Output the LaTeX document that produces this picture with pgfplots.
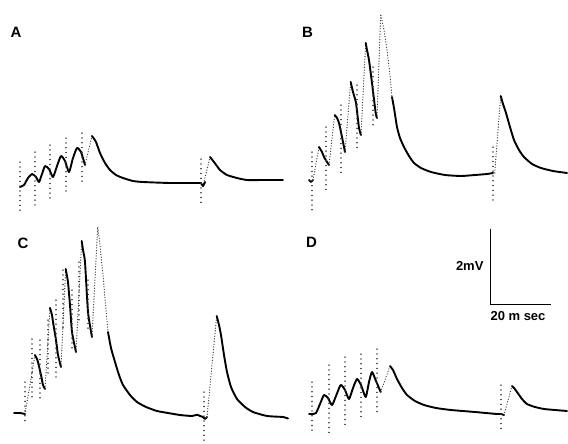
\documentclass[border=0pt]{standalone}
\usepackage{pgfplots}
\pgfplotsset{compat=1.18}
\usepackage{fontspec}
\setmainfont{Liberation Sans}
\begin{document}
\begin{tikzpicture}
\begin{axis}[x=1pt, y=1pt, xmin=0, xmax=568, ymin=0, ymax=444, y dir=reverse,
  hide axis, scale only axis, clip=false,
  trace/.style={black, line width=1.9pt, line join=round, line cap=round, smooth, tension=0.35, mark=none},
  fast/.style={black!75, line width=1.1pt, line cap=round, dash pattern=on 0.3pt off 2.4pt, mark=none},
  art/.style={black!75, line width=1.1pt, line cap=round, dash pattern=on 0.3pt off 4.5pt, mark=none, unbounded coords=jump}]
\draw[draw=none] (axis cs:0,0) rectangle (axis cs:568,444);
% ---------------- Panel A ----------------
\addplot[trace] coordinates {(20,187)(24,185)(28,178)(32,174)(36,177)(39,182)(42,174)(45,166)(49,169)(53,177)(57,166)(61,156)(65,161)(69,172)(73,158)(77,148)(81,152)(85,165)};
\addplot[fast] coordinates {(85,165)(92,136)};
\addplot[trace] coordinates {(92,136)(96,142)(100,153)(105,163)(110,170)(116,175)(123,178)(133,181)(143,182)(170,183)(197,183)(201,183)};
\addplot[fast] coordinates {(203,186)(210,157)};
\addplot[trace] coordinates {(201,183)(203,186)(205,182)};
\addplot[trace] coordinates {(210,157)(214,162)(220,170)(227,175)(237,178)(247,180)(265,180)(283,180)};
\addplot[art] coordinates {(20,162)(20,212)(nan,nan)(35,152)(35,205)(nan,nan)(50,145)(50,200)(nan,nan)(66,138)(66,193)(nan,nan)(82,133)(82,185)(nan,nan)(201,159)(201,205)};
% ---------------- Panel B ----------------
\addplot[trace] coordinates {(309,180)(311,182)(313,180)};
\addplot[fast] coordinates {(313,180)(319,147)};
\addplot[trace] coordinates {(319,147)(322,152)(324,157)(327,162)(329,165)};
\addplot[fast] coordinates {(329,165)(334.7,115)};
\addplot[trace] coordinates {(334.7,115)(337,118)(339,123)(342,137)(345,152)};
\addplot[fast] coordinates {(345,152)(350.7,82)};
\addplot[trace] coordinates {(350.7,82)(353,92)(356,103)(359,128)(361,135)};
\addplot[fast] coordinates {(361,135)(365.7,43)};
\addplot[trace] coordinates {(365.7,43)(367,50)(369,60)(372,83)(375.7,113)(377,118)};
\addplot[fast] coordinates {(377,118)(380.7,14)(384,30)(387,50)(390,75)(392,97)};
\addplot[trace] coordinates {(392,97)(394,108)(397,127)(400,138)(404,147)(409,156)(414,163)(421,168)(431,172)(445,175)(461,176)(475,175)(487,174)(493,173)};
\addplot[fast] coordinates {(494.7,173)(500.7,96)};
\addplot[trace] coordinates {(500.7,96)(503,104)(506,113)(510,127)(514,140)(519,150)(524,157)(532,164)(541,168)(553,171)(567,173)};
\addplot[art] coordinates {(312,152)(312,213)(nan,nan)(326,127)(326,193)(nan,nan)(341,105)(341,173)(nan,nan)(357,85)(357,150)(nan,nan)(373,67)(373,127)(nan,nan)(493,147)(493,203)};
% ---------------- Panel C ----------------
\addplot[trace] coordinates {(14,413)(20,413)(25,414)};
\addplot[fast] coordinates {(25,414)(35,355)};
\addplot[trace] coordinates {(35,355)(37,359)(38,362)(41,375)(43,385)(45,389)};
\addplot[fast] coordinates {(45,389)(50,308)};
\addplot[trace] coordinates {(50,308)(52,315)(53,322)(56,340)(58,355)(61,367)};
\addplot[fast] coordinates {(61,367)(65.7,269)};
\addplot[trace] coordinates {(65.7,269)(67,276)(68,282)(70,305)(72,332)(76,352)};
\addplot[fast] coordinates {(76,352)(81.7,241)};
\addplot[trace] coordinates {(81.7,241)(83,250)(85,262)(88,312)(92,337)};
\addplot[fast] coordinates {(92,337)(97.7,227)(100,245)(103,275)(106,310)(108,332)};
\addplot[trace] coordinates {(108,332)(111,348)(115,362)(119,375)(123,385)(130,395)(137,402)(146,407)(157,411)(168,413)(180,415)(192,416)(197,414.7)(200,416)(203,417)(205,419)(207,417)};
\addplot[fast] coordinates {(207,417)(216.7,316)};
\addplot[trace] coordinates {(216.7,316)(219,325)(221,335)(224,355)(227,372)(231,387)(237,399)(245,407)(253,412)(267,416)(283,417)(288,418.5)};
\addplot[art] coordinates {(25,382)(25,425)(nan,nan)(32,339)(32,399)(nan,nan)(40,340)(40,402)(nan,nan)(48,320)(48,377)(nan,nan)(56,300)(56,377)(nan,nan)(63,270)(63,330)(nan,nan)(72,290)(72,352)(nan,nan)(79,262)(79,320)(nan,nan)(88,280)(88,330)(nan,nan)(204,392)(204,442)};
% ---------------- Panel D ----------------
\addplot[trace] coordinates {(309,414)(312,414)(316,413)(320,404)(324,395)(328,398)(332,405)(336,396)(340.7,385)(345,390)(349,399)(353,388)(357,379)(361,385)(365.7,397)(369,382)(372,372)(376,381)(380.7,392)};
\addplot[fast] coordinates {(380.7,392)(390,366)};
\addplot[trace] coordinates {(390,366)(393,370)(397,379)(402,388)(407,395)(415,401)(424,405)(436,408)(451,410)(475,412)(497,414)(501,414)(504,415)};
\addplot[fast] coordinates {(504,415)(512,386)};
\addplot[trace] coordinates {(512,386)(514,388)(517,392)(522,399)(527,404)(535,407)(544,409)(555,410)(567,411)};
\addplot[art] coordinates {(312,382)(312,432)(nan,nan)(329,365)(329,435)(nan,nan)(345,357)(345,425)(nan,nan)(361,354)(361,419)(nan,nan)(377,349)(377,414)(nan,nan)(501,385)(501,432)};
% ---------------- Scale bar ----------------
\addplot[black, line width=1pt, mark=none] coordinates {(490.7,228.7)(490.7,304.7)(550.7,304.7)};
\node[anchor=east, font=\bfseries\fontsize{13}{13}\selectfont] at (axis cs:487,266) {2mV};
\node[font=\bfseries\fontsize{13}{13}\selectfont] at (axis cs:518,316) {20 m sec};
% ---------------- Panel letters ----------------
\node[font=\bfseries\fontsize{15}{15}\selectfont] at (axis cs:16,32) {A};
\node[font=\bfseries\fontsize{15}{15}\selectfont] at (axis cs:307.5,32) {B};
\node[font=\bfseries\fontsize{15}{15}\selectfont] at (axis cs:23,243.5) {C};
\node[font=\bfseries\fontsize{15}{15}\selectfont] at (axis cs:311.5,242) {D};
\end{axis}
\end{tikzpicture}
\end{document}
